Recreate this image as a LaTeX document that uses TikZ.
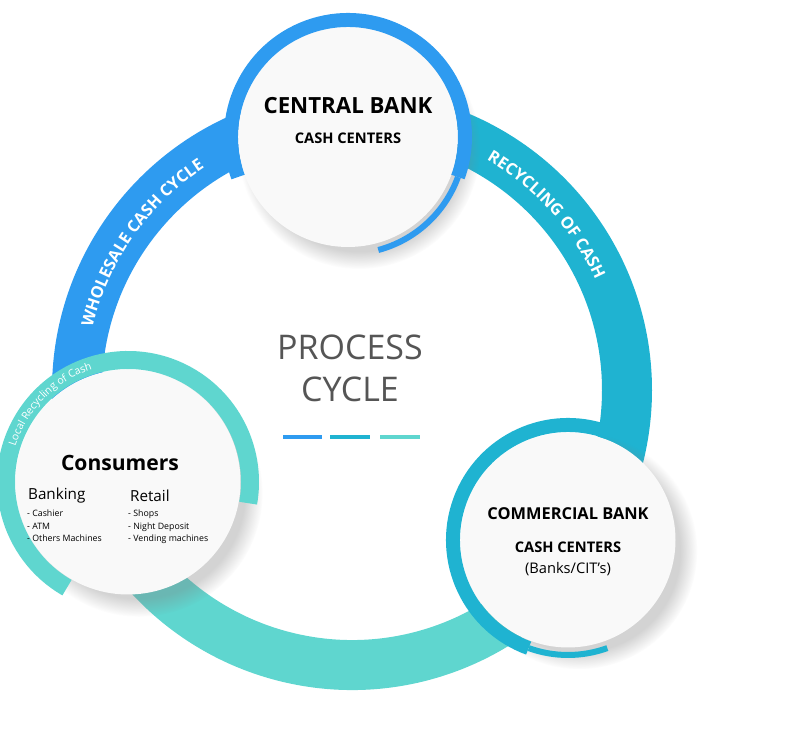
\documentclass[tikz,border=0pt]{standalone}
\usepackage{fontspec}
\setmainfont{Open Sans}
\usetikzlibrary{shadows,decorations.text}
\definecolor{cb}{HTML}{2E9BF0}
\definecolor{ct}{HTML}{1FB3D1}
\definecolor{cl}{HTML}{5FD6CF}
\definecolor{tx}{HTML}{555555}
\begin{document}
\begin{tikzpicture}[x=0.03cm,y=0.03cm,
 disc/.style={circle,fill=white!95!gray,minimum size=#1,inner sep=0,
   circular drop shadow={shadow xshift=10,shadow yshift=-10,opacity=.35}},
 ringtxt/.style={decorate,decoration={text along path,text align=center,
   text={|\color{white}\bfseries\fontsize{14}{14}\selectfont|#1}}}]
\useasboundingbox (0,0) rectangle (800,739);
\coordinate (c) at (352,349);
% ring
\draw[cb,line width=50*0.03cm] ([shift={(182:275)}]c) arc (182:95:275);
\draw[ct,line width=50*0.03cm] ([shift={(95:275)}]c) arc (95:-15:275);
\draw[cl,line width=50*0.03cm] ([shift={(-15:275)}]c) arc (-15:-150:275);
\path[ringtxt={WHOLESALE CASH CYCLE}] ([shift={(178:267)}]c) arc (178:112:267);
\path[ringtxt={RECYCLING OF CASH}] ([shift={(72:267)}]c) arc (72:12:267);
% circles
\node[disc=220*0.03cm] (top) at (348,602) {};
\node[disc=215*0.03cm] (right) at (568,199) {};
\node[disc=225*0.03cm] (left) at (128,257) {};
% rims
\draw[cb,line width=14*0.03cm] ([shift={(200:117)}]top.center) arc (200:-20:117);
\draw[cb,line width=6*0.03cm] ([shift={(-20:117)}]top.center) arc (-20:-75:117);
\draw[ct,line width=14*0.03cm] ([shift={(70:115)}]right.center) arc (70:250:115);
\draw[ct,line width=6*0.03cm] ([shift={(250:115)}]right.center) arc (250:290:115);
\draw[cl,line width=18*0.03cm] ([shift={(240:122)}]left.center) arc (240:-10:122);
\path[decorate,decoration={text along path,text align=center,
   text={|\color{white}\fontsize{9}{9}\selectfont|Local Recycling of Cash}}]
   ([shift={(210:118)}]left.center) arc (210:60:118);
% texts
\node[font=\bfseries\fontsize{19}{22}\selectfont,align=center] (t1) at (348,633) {CENTRAL BANK};
\node[font=\bfseries\fontsize{12.5}{14}\selectfont] (t2) at (348,601) {CASH CENTERS};
\node[font=\bfseries\fontsize{14}{16}\selectfont] (r1) at (568,225) {COMMERCIAL BANK};
\node[font=\bfseries\fontsize{12.5}{14}\selectfont] (r2) at (568,192) {CASH CENTERS};
\node[font=\fontsize{12.5}{14}\selectfont] (r3) at (568,170) {(Banks/CIT's)};
\node[font=\bfseries\fontsize{18}{20}\selectfont] (l1) at (120,276) {Consumers};
\node[font=\fontsize{13}{15}\selectfont,anchor=west] (b1) at (24,243) {Banking};
\node[font=\fontsize{7.5}{10.5}\selectfont,anchor=north west,align=left,inner sep=0] (b2) at (27,229) {- Cashier\\- ATM\\- Others Machines};
\node[font=\fontsize{13}{15}\selectfont,anchor=west] (c1) at (126,243) {Retail};
\node[font=\fontsize{7.5}{10.5}\selectfont,anchor=north west,align=left,inner sep=0] (c2) at (128,229) {- Shops\\- Night Deposit\\- Vending machines};
\node[tx,font=\fontsize{29}{36}\selectfont,align=center] (pc) at (350,371) {PROCESS\\CYCLE};
\coordinate (d1) at (283,302); \coordinate (d2) at (322,302);
\coordinate (d3) at (330,302); \coordinate (d4) at (370,302);
\coordinate (d5) at (380,302); \coordinate (d6) at (420,302);
\draw[cb,line width=4*0.03cm] (d1)--(d2);
\draw[ct,line width=4*0.03cm] (d3)--(d4);
\draw[cl,line width=4*0.03cm] (d5)--(d6);
\end{tikzpicture}
\end{document}
